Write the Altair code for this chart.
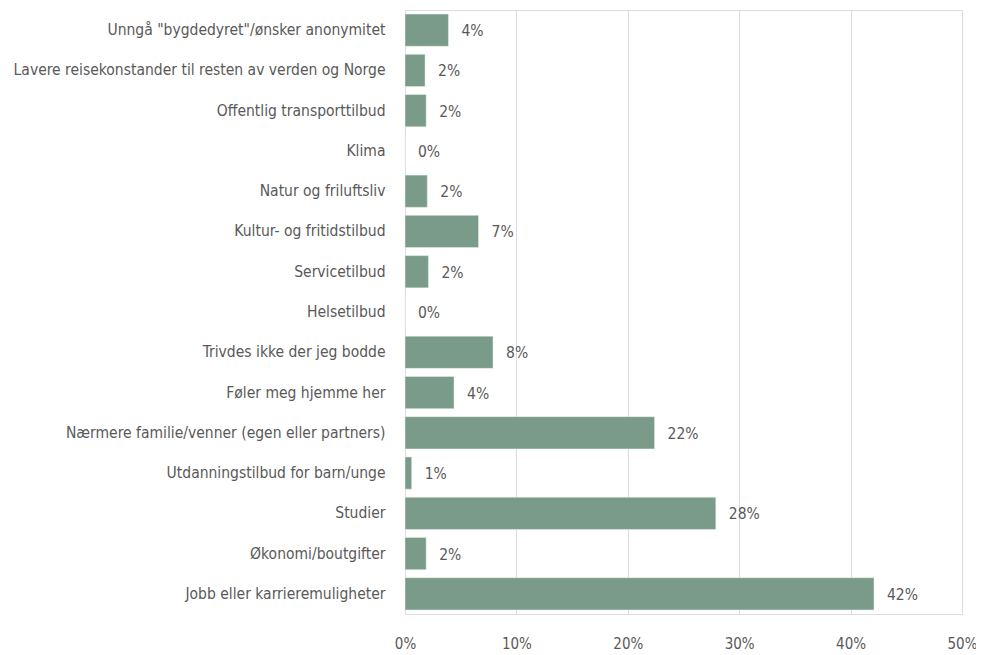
import altair as alt
import pandas as pd

categories = [
    'Unngå "bygdedyret"/ønsker anonymitet',
    "Lavere reisekonstander til resten av verden og Norge",
    "Offentlig transporttilbud",
    "Klima",
    "Natur og friluftsliv",
    "Kultur- og fritidstilbud",
    "Servicetilbud",
    "Helsetilbud",
    "Trivdes ikke der jeg bodde",
    "Føler meg hjemme her",
    "Nærmere familie/venner (egen eller partners)",
    "Utdanningstilbud for barn/unge",
    "Studier",
    "Økonomi/boutgifter",
    "Jobb eller karrieremuligheter",
]
values = [0.039, 0.018, 0.019, 0.0, 0.020, 0.066, 0.021, 0.0, 0.079, 0.044, 0.224, 0.006, 0.279, 0.019, 0.421]

df = pd.DataFrame({"kategori": categories, "andel": values})

FONT = "DejaVu Sans Condensed"
TEXT = "#595959"

base = alt.Chart(df).encode(
    y=alt.Y("kategori:N", sort=categories, title=None,
            scale=alt.Scale(paddingInner=0.2, paddingOuter=0.1),
            axis=alt.Axis(domain=False, ticks=False, labelPadding=20,
                          labelFont=FONT, labelFontSize=15.5, labelColor=TEXT,
                          labelLimit=400)),
    x=alt.X("andel:Q", title=None,
            scale=alt.Scale(domain=[0, 0.5], nice=False),
            axis=alt.Axis(format=".0%", values=[0, 0.1, 0.2, 0.3, 0.4, 0.5],
                          domain=False, ticks=False, labelPadding=22,
                          labelFlush=False,
                          labelFont=FONT, labelFontSize=15, labelColor=TEXT,
                          gridColor="#dcdcdc", gridWidth=1)),
)

bars = base.mark_bar(color="#7a9a8a", stroke="#e8eeea", strokeWidth=0.5)
labels = base.mark_text(align="left", baseline="middle", dx=13, dy=1,
                        font=FONT, fontSize=15.5, color=TEXT).encode(
    text=alt.Text("andel:Q", format=".0%"))

chart = (bars + labels).properties(
    width=557, height=604,
    autosize=alt.AutoSizeParams(type="none"),
    padding={"left": 397, "top": 2, "right": 14, "bottom": 40},
).configure_view(stroke=None).configure(background="white")

chart.save("out.html", embed_options={"renderer": "svg", "actions": False})
